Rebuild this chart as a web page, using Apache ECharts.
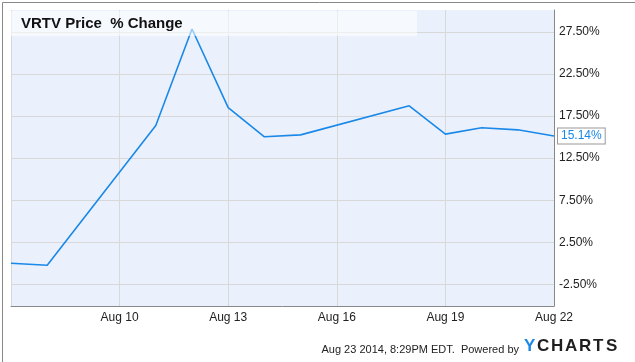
<!DOCTYPE html>
<html>
<head>
<meta charset="utf-8">
<script src="https://cdn.jsdelivr.net/npm/echarts@6/dist/echarts.min.js"></script>
<style>
html,body{margin:0;padding:0;background:#fff;}
#c{width:635px;height:362px;}
</style>
</head>
<body>
<div id="c"></div>
<script>
const dates = ['2014-08-07','2014-08-08','2014-08-11','2014-08-12','2014-08-13','2014-08-14','2014-08-15','2014-08-18','2014-08-19','2014-08-20','2014-08-21','2014-08-22'];
const changes = [0.00, -0.24, 16.38, 27.86, 18.52, 15.04, 15.27, 18.73, 15.36, 16.11, 15.87, 15.14];
const yTicks = [-2.5, 2.5, 7.5, 12.5, 17.5, 22.5, 27.5];
const xStart = '2014-08-07';
const xEnd = '2014-08-22';
const months = ['Jan','Feb','Mar','Apr','May','Jun','Jul','Aug','Sep','Oct','Nov','Dec'];

const toTs = s => { const p = s.split('-').map(Number); return Date.UTC(p[0], p[1]-1, p[2]); };
const DAY = 86400000;
const data = dates.map((d,i) => [toTs(d), changes[i]]);

const logoLetters = ['Y','C','H','A','R','T','S'];
const logoLeft = [524, 537, 551, 565, 579, 593, 606];
const logoGraphics = logoLetters.map((ch,i) => ({
  type:'text', left:logoLeft[i], top:338,
  style:{text:ch, font:'bold 17px "Liberation Sans", Arial', fill: i === 0 ? '#1a88e8' : '#1e1e1e'}, z:11
}));

const chart = echarts.init(document.getElementById('c'), null, {renderer:'canvas'});
chart.setOption({
  animation:false,
  backgroundColor:'#fff',
  grid:{left:11, right:81, top:10, bottom:56, show:true, backgroundColor:'#eaf1fc', borderWidth:0},
  xAxis:{
    type:'value',
    min:toTs(xStart), max:toTs(xEnd), interval:3*DAY,
    axisLine:{show:true, onZero:false, lineStyle:{color:'#888', width:1}},
    axisTick:{show:false},
    splitLine:{show:true, lineStyle:{color:'#d8d8d8', width:1}},
    axisLabel:{
      color:'#222', fontFamily:'Liberation Sans, Arial', fontSize:12, margin:6,
      formatter:v => { if (Math.abs(v - toTs(xStart)) < 1000) return ''; const d = new Date(v); return months[d.getUTCMonth()] + ' ' + d.getUTCDate(); }
    }
  },
  yAxis:{
    type:'value', position:'right',
    min:-5.08, max:30.12,
    axisLine:{show:true, lineStyle:{color:'#888', width:1}},
    axisTick:{show:false, customValues:yTicks},
    splitLine:{show:true, lineStyle:{color:'#d8d8d8', width:1}},
    axisLabel:{
      customValues:yTicks,
      color:'#222', fontFamily:'Liberation Sans, Arial', fontSize:12, margin:5,
      formatter:v => v.toFixed(2) + '%'
    }
  },
  series:[{
    type:'line', data:data, symbol:'none',
    lineStyle:{color:'#1a88e8', width:1.6},
    endLabel:{
      show:true, formatter:p => p.value[1].toFixed(2) + '%',
      color:'#1a88e8', fontFamily:'Liberation Sans, Arial', fontSize:12,
      backgroundColor:'#fff', borderColor:'#999', borderWidth:1,
      padding:[2,3,1,3], distance:4
    }
  }],
  graphic:[
    {type:'rect', left:11, top:11, shape:{width:406, height:25}, style:{fill:'rgba(255,255,255,0.55)'}, z:10},
    {type:'text', left:21, top:16, style:{text:'VRTV Price  % Change', font:'bold 15px "Liberation Sans", Arial', fill:'#111'}, z:11},
    {type:'text', right:116, top:344, style:{text:'Aug 23 2014, 8:29PM EDT.  Powered by', font:'11px "Liberation Sans", Arial', fill:'#222'}, z:11},
    ...logoGraphics,
    {type:'rect', left:0, top:0, shape:{width:634, height:361}, style:{fill:'none', stroke:'#888', lineWidth:1}, z:12}
  ]
});
</script>
</body>
</html>
